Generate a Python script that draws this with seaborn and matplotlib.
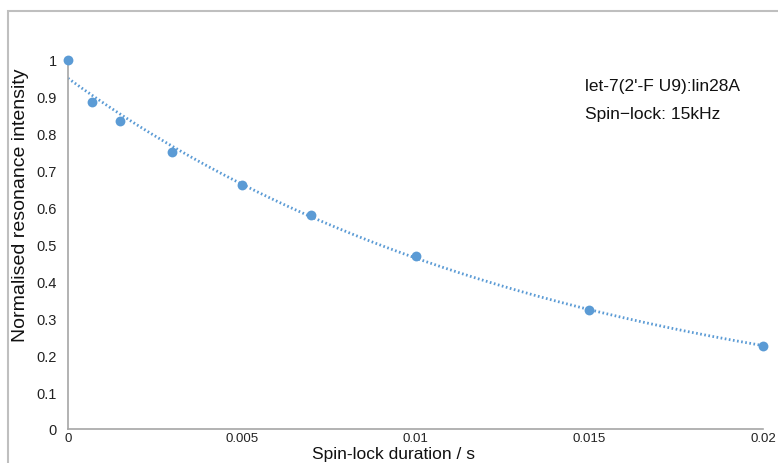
import numpy as np
import pandas as pd
import matplotlib
matplotlib.use("Agg")
import matplotlib.pyplot as plt
import seaborn as sns
from matplotlib.patches import Rectangle

# data
duration_s = [0.0, 0.0007, 0.0015, 0.003, 0.005, 0.007, 0.01, 0.015, 0.02]
intensity = [1.0, 0.885, 0.835, 0.751, 0.661, 0.580, 0.468, 0.323, 0.226]
x_ticks = [0, 0.005, 0.01, 0.015, 0.02]
x_tick_labels = ["0", "0.005", "0.01", "0.015", "0.02"]
y_ticks = [0, 0.1, 0.2, 0.3, 0.4, 0.5, 0.6, 0.7, 0.8, 0.9, 1.0]
y_tick_labels = ["0", "0.1", "0.2", "0.3", "0.4", "0.5", "0.6", "0.7", "0.8", "0.9", "1"]
annot_lines = ["let-7(2'-F U9):lin28A", "Spin\u2212lock: 15kHz"]

sns.set_theme(style="white")
plt.rcParams['font.family'] = ['Liberation Sans', 'DejaVu Sans']

df = pd.DataFrame({"x": duration_s, "y": intensity})

# exponential trendline (log-linear least squares fit of the data)
k, ln_a = np.polyfit(df["x"], np.log(df["y"]), 1)
xf = np.linspace(0, 0.02, 300)
fit = pd.DataFrame({"x": xf, "y": np.exp(ln_a) * np.exp(k * xf)})

color = "#5b9bd5"
fig = plt.figure(figsize=(7.78, 4.64), dpi=100)
ax = fig.add_axes([68/778, 1-430/464, (763-68)/778, (430-61)/464])

sns.lineplot(data=fit, x="x", y="y", ax=ax, color=color, lw=2.0,
             linestyle=(0, (0.6, 0.9)), zorder=2)
sns.scatterplot(data=df, x="x", y="y", ax=ax, color=color, s=50,
                edgecolor=color, linewidth=0, zorder=3, clip_on=False)

ax.set_xlim(0, 0.02)
ax.set_ylim(0, 1)
ax.set_xticks(x_ticks)
ax.set_xticklabels(x_tick_labels, fontsize=9.5)
ax.set_yticks(y_ticks)
ax.set_yticklabels(y_tick_labels, fontsize=10.5)
ax.tick_params(axis='x', direction='in', length=9, width=1, color='#a6a6a6', pad=2,
               labelcolor='#222222')
ax.tick_params(axis='y', direction='in', length=10, width=1, color='#a6a6a6', pad=8,
               labelcolor='#222222')
for s in ['top', 'right']:
    ax.spines[s].set_visible(False)
for s in ['left', 'bottom']:
    ax.spines[s].set_color('#a6a6a6')
    ax.spines[s].set_linewidth(1.2)

ax.set_xlabel("Spin-lock duration / s", fontsize=12.5, color='#111111')
ax.xaxis.set_label_coords((393-68)/(763-68), -(455-430)/(430-61))
ax.xaxis.label.set_va('center')
ax.set_ylabel("Normalised resonance intensity", fontsize=14, color='#111111')
ax.yaxis.set_label_coords(-(68-21)/(763-68), (430-205)/(430-61))
ax.yaxis.label.set_va('center')

ax.text((585-68)/(763-68), (430-87)/(430-61), annot_lines[0], transform=ax.transAxes,
        fontsize=12.5, va='center', ha='left', color='#111111')
ax.text((585-68)/(763-68), (430-114)/(430-61), annot_lines[1], transform=ax.transAxes,
        fontsize=12.5, va='center', ha='left', color='#111111')

fig.patches.append(Rectangle((8/778, -0.1), 1.2, 1 - 12/464 + 0.1,
                             transform=fig.transFigure, fill=False,
                             edgecolor='#bfbfbf', linewidth=1.5))

fig.savefig("out.png", dpi=100)
